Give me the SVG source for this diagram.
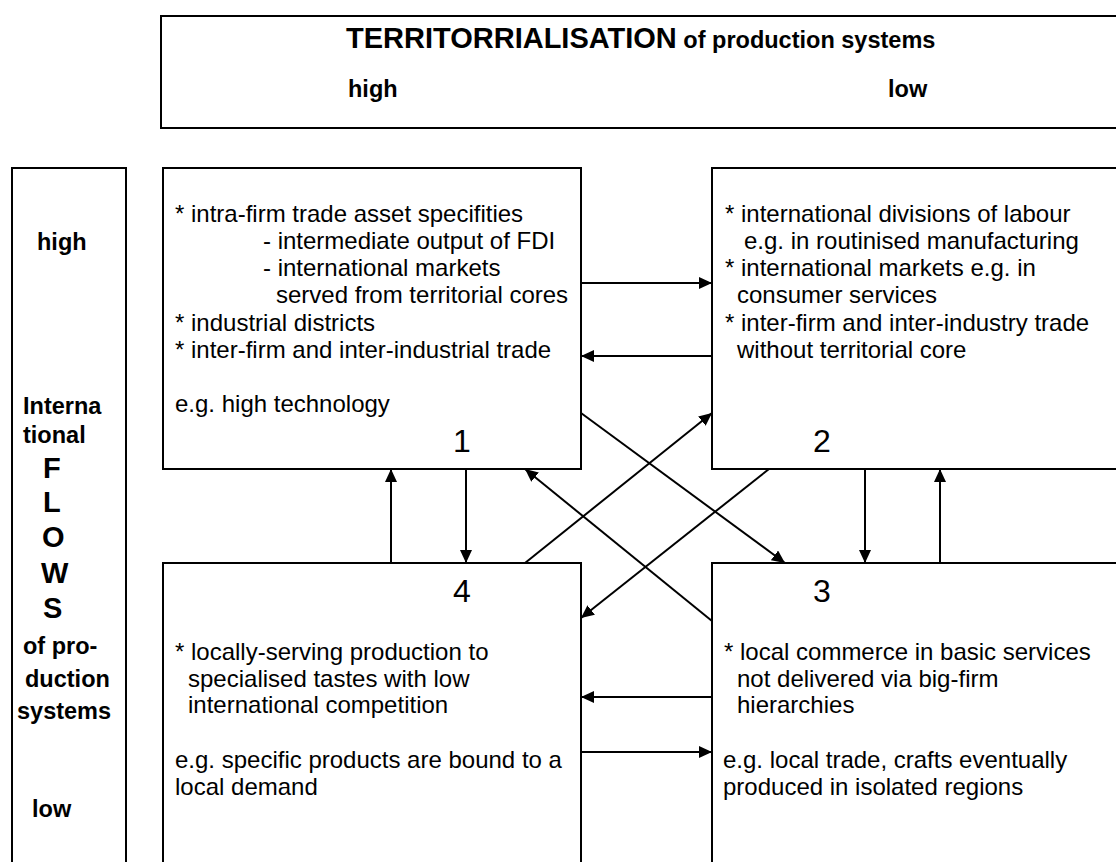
<svg xmlns="http://www.w3.org/2000/svg" width="1116" height="862" viewBox="0 0 1116 862">
<style>
.box{fill:#fff;stroke:#000;stroke-width:2}
.t{font-family:"Liberation Sans",Arial,sans-serif;font-size:24px;fill:#000}
.b{font-family:"Liberation Sans",Arial,sans-serif;font-size:23.5px;font-weight:bold;fill:#000}
.big{font-family:"Liberation Sans",Arial,sans-serif;font-size:29px;font-weight:bold;fill:#000}
.num{font-family:"Liberation Sans",Arial,sans-serif;font-size:32px;fill:#000;text-anchor:middle}
.c{stroke:#000;stroke-width:2;fill:none;marker-end:url(#ah)}
</style>
<defs>
<marker id="ah" markerUnits="userSpaceOnUse" markerWidth="13" markerHeight="12" refX="13" refY="6" orient="auto">
<path d="M0,0 L13,6 L0,12 z" fill="#000"/>
</marker>
</defs>
<rect width="1116" height="862" fill="#fff"/>
<g id="header">
<rect class="box" x="161" y="16" width="980" height="112"/>
<text x="346" y="48"><tspan class="big">TERRITORRIALISATION</tspan><tspan class="b" font-size="24.5px"> of production systems</tspan></text>
<text class="b" x="348" y="97">high</text>
<text class="b" x="888" y="97">low</text>
</g>
<g id="axis">
<rect class="box" x="12" y="168" width="114" height="720"/>
<text class="b" x="37" y="250">high</text>
<text class="b" x="23" y="414">Interna</text>
<text class="b" x="23" y="443">tional</text>
<text class="big" x="43" y="478">F</text>
<text class="big" x="43" y="512">L</text>
<text class="big" x="42" y="547">O</text>
<text class="big" x="41" y="583">W</text>
<text class="big" x="43" y="618">S</text>
<text class="b" x="23" y="654">of pro-</text>
<text class="b" x="25" y="687">duction</text>
<text class="b" x="17" y="719">systems</text>
<text class="b" x="32" y="817">low</text>
</g>
<g id="node1">
<rect class="box" x="163" y="168" width="418" height="301"/>
<text class="t" x="175" y="222">* intra-firm trade asset specifities</text>
<text class="t" x="263" y="249">- intermediate output of FDI</text>
<text class="t" x="263" y="276">- international markets</text>
<text class="t" x="276" y="303">served from territorial cores</text>
<text class="t" x="175" y="331">* industrial districts</text>
<text class="t" x="175" y="358">* inter-firm and inter-industrial trade</text>
<text class="t" x="175" y="412">e.g. high technology</text>
<text class="num" x="462" y="452">1</text>
</g>
<g id="node2">
<rect class="box" x="712" y="168" width="430" height="301"/>
<text class="t" x="725" y="222">* international divisions of labour</text>
<text class="t" x="744" y="249">e.g. in routinised manufacturing</text>
<text class="t" x="725" y="276">* international markets e.g. in</text>
<text class="t" x="737" y="303">consumer services</text>
<text class="t" x="725" y="331">* inter-firm and inter-industry trade</text>
<text class="t" x="737" y="358">without territorial core</text>
<text class="num" x="822" y="452">2</text>
</g>
<g id="node4">
<rect class="box" x="163" y="563" width="418" height="330"/>
<text class="num" x="462" y="602">4</text>
<text class="t" x="175" y="660">* locally-serving production to</text>
<text class="t" x="188" y="687">specialised tastes with low</text>
<text class="t" x="188" y="713">international competition</text>
<text class="t" x="175" y="768">e.g. specific products are bound to a</text>
<text class="t" x="175" y="795">local demand</text>
</g>
<g id="node3">
<rect class="box" x="712" y="563" width="430" height="330"/>
<text class="num" x="822" y="602">3</text>
<text class="t" x="724" y="660">* local commerce in basic services</text>
<text class="t" x="737" y="687">not delivered via big-firm</text>
<text class="t" x="737" y="713">hierarchies</text>
<text class="t" x="723" y="768">e.g. local trade, crafts eventually</text>
<text class="t" x="723" y="795">produced in isolated regions</text>
</g>
<g id="connectors">
<line class="c" x1="581" y1="283" x2="712" y2="283"/>
<line class="c" x1="712" y1="356" x2="581" y2="356"/>
<line class="c" x1="712" y1="697" x2="581" y2="697"/>
<line class="c" x1="581" y1="752" x2="712" y2="752"/>
<line class="c" x1="391" y1="563" x2="391" y2="469"/>
<line class="c" x1="466" y1="469" x2="466" y2="563"/>
<line class="c" x1="865" y1="469" x2="865" y2="563"/>
<line class="c" x1="940" y1="563" x2="940" y2="469"/>
<line class="c" x1="581" y1="413" x2="785" y2="563"/>
<line class="c" x1="525" y1="563" x2="712" y2="413"/>
<line class="c" x1="769" y1="469" x2="581" y2="618"/>
<line class="c" x1="712" y1="621" x2="525" y2="469"/>
</g>
</svg>
